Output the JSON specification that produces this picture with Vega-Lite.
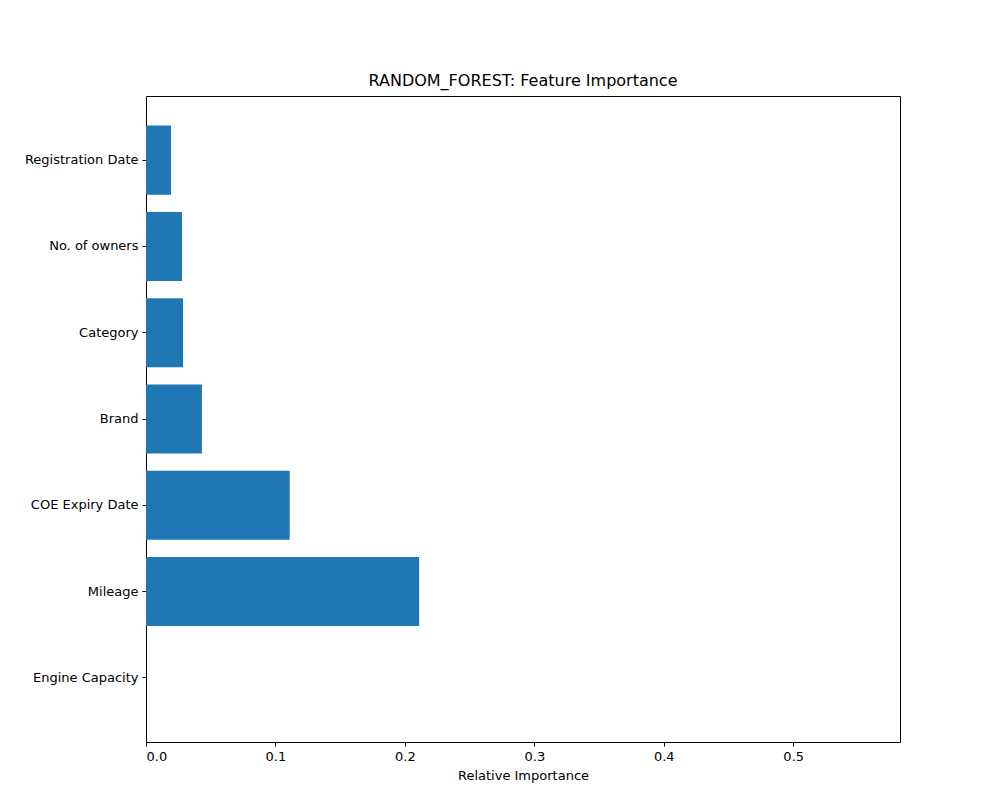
{
  "$schema": "https://vega.github.io/schema/vega-lite/v6.json",
  "width": 754,
  "height": 646,
  "autosize": {"type": "none"},
  "padding": {"left": 146, "top": 96, "right": 100, "bottom": 58},
  "title": {"text": "RANDOM_FOREST: Feature Importance", "font": "DejaVu Sans", "fontSize": 16, "fontWeight": "normal", "offset": 7},
  "data": {
    "values": [
      {"feature": "Registration Date", "importance": 0.0193},
      {"feature": "No. of owners", "importance": 0.0278},
      {"feature": "Category", "importance": 0.0286},
      {"feature": "Brand", "importance": 0.0432},
      {"feature": "COE Expiry Date", "importance": 0.111},
      {"feature": "Mileage", "importance": 0.211},
      {"feature": "Engine Capacity", "importance": 0}
    ]
  },
  "mark": {"type": "bar", "color": "#1f77b4"},
  "encoding": {
    "y": {
      "field": "feature", "type": "nominal", "sort": null,
      "scale": {"paddingInner": 0.2, "paddingOuter": 0.343},
      "axis": {"title": null}
    },
    "x": {
      "field": "importance", "type": "quantitative",
      "scale": {"domain": [0, 0.5825], "nice": false},
      "axis": {"title": "Relative Importance", "values": [0, 0.1, 0.2, 0.3, 0.4, 0.5], "format": ".1f"}
    }
  },
  "config": {
    "view": {"stroke": "black", "strokeWidth": 1},
    "axis": {
      "grid": false, "domain": false, "tickColor": "black", "tickSize": 4,
      "labelFont": "DejaVu Sans", "labelFontSize": 13, "labelColor": "black",
      "titleFont": "DejaVu Sans", "titleFontSize": 13, "titleFontWeight": "normal", "titleColor": "black",
      "labelPadding": 4, "titlePadding": 6
    }
  }
}
